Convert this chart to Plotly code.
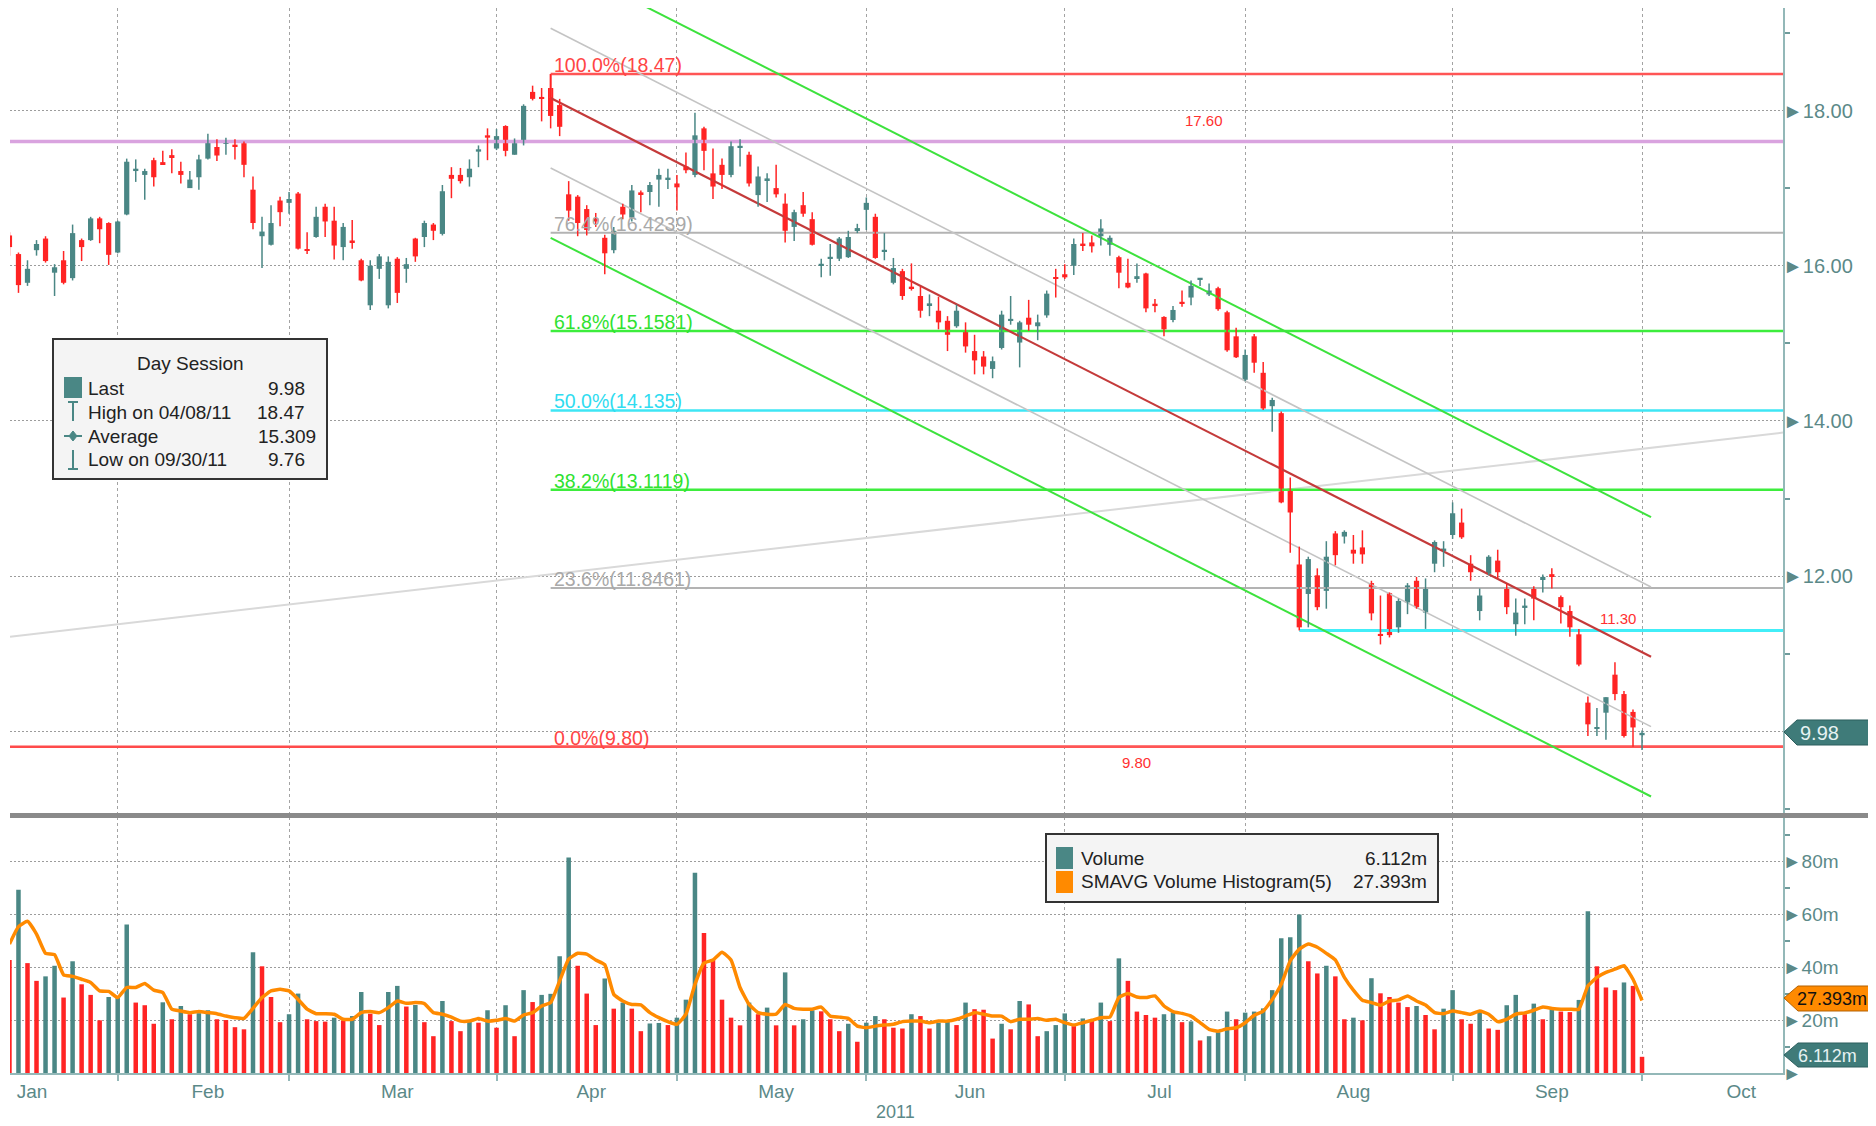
import plotly.graph_objects as go
import pandas as pd

# ---------------- data ----------------
HOLIDAYS = ["2011-01-17", "2011-02-21", "2011-04-22", "2011-05-30", "2011-07-04", "2011-09-05"]
FIRST_BAR = "2011-01-12"
MONTH_NAMES = ["Jan", "Feb", "Mar", "Apr", "May", "Jun", "Jul", "Aug", "Sep", "Oct"]

opens = [
    16.39, 16.15, 15.78, 16.20, 16.35, 15.91, 16.07, 15.84, 16.33, 16.33,
    16.61, 16.55, 16.17, 16.66, 17.22, 17.17, 17.36, 17.33, 17.42, 17.22,
    17.00, 17.14, 17.38, 17.53, 17.58, 17.56, 17.58, 16.98, 16.38, 16.27,
    16.84, 16.81, 16.93, 16.20, 16.37, 16.76, 16.58, 16.24, 16.32, 16.07,
    15.49, 15.96, 15.49, 16.09, 15.96, 16.35, 16.37, 16.53, 16.41, 17.17,
    17.17, 17.14, 17.47, 17.68, 17.51, 17.80, 17.43, 17.58, 18.24, 18.17,
    18.29, 18.07, 16.92, 16.89, 16.73, 16.61, 16.36, 16.20, 16.76, 16.62,
    16.94, 16.95, 17.11, 17.11, 17.06, 17.28, 17.17, 17.77, 17.19, 17.30,
    17.17, 17.52, 17.43, 16.91, 17.10, 17.00, 16.80, 16.50, 16.78, 16.60,
    16.00, 16.09, 16.09, 16.11, 16.46, 16.72, 16.63, 16.18, 15.78, 15.93,
    15.73, 15.61, 15.49, 15.42, 15.29, 15.22, 15.16, 14.90, 14.83, 14.67,
    14.94, 15.29, 15.01, 15.33, 15.22, 15.36, 15.85, 15.89, 16.00, 16.28,
    16.30, 16.38, 16.27, 16.11, 15.78, 15.84, 15.90, 15.51, 15.34, 15.30,
    15.53, 15.59, 15.82, 15.63, 15.71, 15.40, 15.09, 14.53, 15.09, 14.62,
    14.19, 14.10, 13.13, 12.15, 11.77, 12.01, 11.81, 12.55, 12.51, 12.34,
    12.37, 11.91, 11.25, 11.78, 11.34, 11.66, 11.94, 11.53, 12.16, 12.33,
    12.53, 12.69, 12.16, 11.55, 12.03, 12.20, 11.84, 11.38, 11.59, 11.84,
    11.95, 12.02, 11.73, 11.55, 11.25, 10.37, 10.03, 10.24, 10.73, 10.48,
    10.25, 9.95,
]
highs = [
    16.43, 16.17, 16.07, 16.33, 16.38, 16.02, 16.19, 16.53, 16.35, 16.63,
    16.63, 16.56, 16.58, 17.38, 17.37, 17.25, 17.39, 17.48, 17.50, 17.34,
    17.22, 17.43, 17.70, 17.63, 17.65, 17.63, 17.60, 17.15, 16.63, 16.78,
    16.89, 16.95, 16.95, 16.43, 16.76, 16.80, 16.76, 16.55, 16.59, 16.09,
    16.07, 16.15, 16.12, 16.11, 16.10, 16.36, 16.58, 16.55, 17.04, 17.27,
    17.26, 17.37, 17.55, 17.77, 17.76, 17.81, 17.64, 18.08, 18.32, 18.29,
    18.47, 18.15, 17.09, 16.91, 16.78, 16.68, 16.40, 16.50, 16.80, 17.04,
    16.97, 17.08, 17.25, 17.25, 17.17, 17.46, 17.97, 17.79, 17.51, 17.38,
    17.60, 17.63, 17.47, 17.28, 17.19, 17.30, 16.93, 16.72, 16.95, 16.69,
    16.09, 16.28, 16.37, 16.45, 16.54, 16.88, 16.67, 16.42, 16.10, 15.96,
    16.03, 15.73, 15.63, 15.60, 15.35, 15.50, 15.27, 15.11, 14.90, 14.83,
    15.42, 15.61, 15.29, 15.56, 15.37, 15.68, 15.96, 16.02, 16.35, 16.42,
    16.39, 16.60, 16.39, 16.13, 16.09, 16.03, 15.91, 15.57, 15.35, 15.48,
    15.68, 15.81, 15.84, 15.77, 15.73, 15.42, 15.20, 14.92, 15.12, 14.76,
    14.30, 14.12, 13.27, 12.38, 12.25, 12.10, 12.45, 12.58, 12.59, 12.53,
    12.59, 11.94, 11.75, 11.79, 11.71, 11.91, 11.99, 11.97, 12.46, 12.45,
    12.95, 12.87, 12.27, 11.84, 12.27, 12.34, 11.90, 11.71, 11.71, 11.87,
    12.02, 12.10, 11.75, 11.62, 11.32, 10.45, 10.30, 10.44, 10.89, 10.52,
    10.28, 10.01,
]
lows = [
    16.13, 15.65, 15.74, 16.13, 16.04, 15.61, 15.76, 15.81, 16.06, 16.32,
    16.29, 16.01, 16.16, 16.65, 17.08, 16.85, 17.02, 17.30, 17.19, 17.06,
    17.00, 16.98, 17.37, 17.35, 17.43, 17.37, 17.14, 16.47, 15.97, 16.26,
    16.51, 16.67, 16.21, 16.15, 16.36, 16.37, 16.08, 16.07, 16.22, 15.80,
    15.43, 15.83, 15.45, 15.52, 15.78, 16.05, 16.24, 16.33, 16.39, 16.87,
    17.06, 17.02, 17.27, 17.36, 17.49, 17.41, 17.43, 17.55, 18.13, 17.86,
    17.77, 17.67, 16.58, 16.38, 16.39, 16.50, 15.89, 16.16, 16.60, 16.57,
    16.69, 16.78, 16.76, 16.99, 16.71, 17.19, 17.14, 17.23, 16.86, 16.99,
    17.14, 17.28, 17.02, 16.76, 16.82, 16.88, 16.30, 16.32, 16.63, 16.26,
    15.85, 15.87, 16.06, 16.10, 16.42, 16.46, 16.09, 16.07, 15.76, 15.56,
    15.68, 15.33, 15.35, 15.18, 14.90, 15.20, 14.88, 14.60, 14.60, 14.55,
    14.92, 15.24, 14.69, 15.16, 15.04, 15.33, 15.59, 15.83, 15.88, 16.19,
    16.17, 16.26, 16.13, 15.71, 15.71, 15.78, 15.40, 15.40, 15.09, 15.27,
    15.47, 15.49, 15.74, 15.61, 15.42, 14.89, 14.81, 14.51, 14.62, 14.14,
    13.86, 12.94, 12.30, 11.30, 11.34, 11.56, 11.58, 12.14, 12.42, 12.16,
    12.16, 11.43, 11.12, 11.21, 11.27, 11.51, 11.58, 11.32, 12.05, 12.12,
    12.48, 12.48, 11.94, 11.43, 12.01, 11.97, 11.51, 11.23, 11.38, 11.43,
    11.79, 11.84, 11.39, 11.22, 10.84, 9.94, 9.94, 9.89, 10.40, 9.92,
    9.80, 9.76,
]
closes = [
    16.24, 15.75, 15.96, 16.28, 16.06, 15.98, 15.78, 16.42, 16.24, 16.61,
    16.47, 16.14, 16.57, 17.34, 17.25, 17.22, 17.14, 17.31, 17.40, 17.17,
    17.11, 17.37, 17.60, 17.42, 17.60, 17.53, 17.30, 16.55, 16.44, 16.55,
    16.69, 16.86, 16.22, 16.19, 16.63, 16.57, 16.26, 16.50, 16.30, 15.81,
    16.00, 16.12, 16.05, 15.65, 16.02, 16.12, 16.55, 16.45, 16.96, 17.12,
    17.09, 17.25, 17.50, 17.65, 17.67, 17.48, 17.58, 18.06, 18.15, 18.15,
    17.93, 17.79, 16.71, 16.55, 16.46, 16.57, 16.16, 16.45, 16.66, 16.97,
    16.92, 17.04, 17.17, 17.12, 17.01, 17.23, 17.68, 17.48, 17.02, 17.17,
    17.54, 17.54, 17.06, 17.15, 17.11, 16.92, 16.45, 16.69, 16.67, 16.27,
    16.02, 16.11, 16.35, 16.37, 16.48, 16.81, 16.10, 16.19, 15.97, 15.61,
    15.70, 15.42, 15.51, 15.27, 15.11, 15.42, 14.96, 14.78, 14.70, 14.77,
    15.37, 15.30, 15.27, 15.24, 15.27, 15.64, 15.83, 15.85, 16.28, 16.26,
    16.25, 16.48, 16.36, 15.91, 15.72, 15.85, 15.45, 15.48, 15.18, 15.43,
    15.51, 15.74, 15.83, 15.68, 15.44, 14.91, 14.82, 14.85, 14.75, 14.16,
    14.27, 12.95, 12.82, 11.34, 12.22, 11.60, 12.25, 12.27, 12.57, 12.29,
    12.28, 11.52, 11.23, 11.24, 11.68, 11.88, 11.60, 11.84, 12.44, 12.34,
    12.81, 12.50, 12.05, 11.75, 12.25, 12.05, 11.60, 11.53, 11.62, 11.71,
    11.99, 12.00, 11.60, 11.34, 10.86, 10.09, 10.05, 10.44, 10.48, 9.94,
    10.05, 9.98,
]
# volume in millions
volumes = [
    42.7, 69.2, 41.5, 34.8, 36.5, 40.5, 28.5, 42.2, 33.5, 29.5,
    19.9, 28.7, 29.0, 56.1, 26.6, 25.6, 18.6, 26.7, 20.3, 25.3,
    22.2, 22.6, 23.7, 20.3, 20.0, 17.3, 16.5, 45.6, 40.3, 28.7,
    19.2, 22.2, 30.0, 20.3, 19.6, 19.4, 20.9, 19.9, 21.5, 30.6,
    22.4, 18.1, 30.6, 32.9, 25.1, 25.7, 19.2, 13.9, 27.2, 19.6,
    15.8, 19.4, 19.0, 23.7, 17.1, 25.6, 13.9, 31.3, 26.8, 29.5,
    29.9, 44.1, 81.4, 40.5, 30.0, 18.1, 35.7, 24.3, 26.6, 24.3,
    15.8, 18.7, 18.9, 18.1, 20.9, 27.7, 75.6, 52.9, 42.7, 27.7,
    20.9, 18.0, 26.6, 22.2, 24.7, 18.0, 38.0, 18.0, 20.3, 23.7,
    23.3, 20.3, 15.8, 18.6, 11.8, 19.0, 21.5, 20.3, 17.1, 16.8,
    22.2, 21.5, 16.8, 19.0, 19.4, 18.1, 26.6, 24.1, 23.9, 13.0,
    18.6, 16.5, 27.2, 25.9, 13.9, 15.8, 18.1, 22.5, 17.7, 20.6,
    20.3, 26.6, 19.6, 43.3, 34.8, 23.2, 21.9, 20.9, 22.2, 22.9,
    19.2, 19.5, 12.3, 13.9, 15.4, 23.2, 20.3, 22.8, 23.2, 24.4,
    31.3, 50.9, 51.3, 59.9, 42.2, 37.6, 40.5, 36.5, 20.3, 20.9,
    19.9, 35.8, 30.1, 28.7, 26.6, 24.9, 25.3, 21.9, 16.5, 24.3,
    31.3, 20.3, 18.6, 23.4, 16.8, 16.3, 25.6, 29.5, 22.2, 26.2,
    20.3, 24.1, 23.2, 23.0, 27.6, 61.1, 40.3, 32.3, 31.3, 34.2,
    32.9, 6.112,
]
# SMAVG(5) of volume (millions)
smavg5 = [
    48.7, 55.3, 57.3, 52.5, 45.2, 44.7, 37.1, 36.5, 35.4, 34.2,
    31.0, 30.8, 28.5, 32.3, 32.3, 33.8, 31.3, 30.4, 24.1, 23.4,
    22.8, 23.2, 22.8, 22.4, 21.5, 20.9, 20.6, 24.4, 28.5, 31.0,
    31.6, 31.0, 27.8, 24.1, 22.4, 22.4, 22.2, 20.3, 20.3, 22.8,
    23.2, 22.8, 24.7, 27.2, 26.3, 26.6, 26.2, 22.8, 22.2, 21.1,
    19.6, 19.6, 20.6, 19.6, 19.9, 20.6, 19.6, 21.9, 22.8, 25.3,
    26.6, 34.8, 43.0, 45.2, 44.9, 42.7, 40.9, 29.7, 27.2, 25.9,
    25.7, 22.8, 20.9, 19.4, 18.4, 22.2, 33.5, 41.5, 42.7, 45.6,
    42.7, 32.3, 25.9, 22.8, 22.2, 22.2, 25.9, 24.4, 24.1, 24.1,
    24.9, 21.5, 21.1, 20.6, 17.7, 17.1, 17.7, 18.1, 18.4, 19.4,
    19.6, 19.6, 19.0, 19.6, 19.6, 20.3, 21.5, 22.8, 22.2, 21.5,
    21.5, 19.4, 20.3, 20.3, 20.6, 19.9, 20.3, 19.0, 18.1, 19.0,
    19.9, 20.9, 21.1, 28.5, 30.0, 28.7, 28.5, 29.1, 25.3, 23.2,
    22.5, 21.5, 19.0, 16.5, 15.8, 16.7, 17.1, 19.0, 21.8, 23.4,
    27.8, 33.5, 42.4, 46.8, 48.7, 47.5, 45.2, 42.7, 36.1, 31.3,
    27.5, 26.6, 25.6, 27.2, 27.6, 29.1, 27.2, 25.7, 22.8, 22.4,
    23.4, 22.8, 22.2, 23.4, 22.2, 19.4, 20.3, 22.2, 22.7, 23.7,
    24.9, 24.4, 24.1, 24.1, 24.1, 32.9, 36.1, 38.0, 39.2, 40.5,
    35.4, 27.393,
]

# price levels / drawn studies
FIB_PCTS = ["100.0%", "76.4%", "61.8%", "50.0%", "38.2%", "23.6%", "0.0%"]
FIB_VALUES = [18.47, 16.4239, 15.1581, 14.135, 13.1119, 11.8461, 9.80]
FIB_LABEL_VALUES = ["18.47", "16.4239", "15.1581", "14.135", "13.1119", "11.8461", "9.80"]
FIB_START_DATE = "2011-04-08"
RESIST_LEVEL = 17.60
SUPPORT_LEVEL = 9.80
AUG_LEVEL = 11.30
AUG_START_DATE = "2011-08-08"
CHANNEL_START = ("2011-04-08", 18.16)
CHANNEL_END = ("2011-10-03", 10.96)
CHANNEL_OFFSETS = [1.80, 0.90, 0.0, -0.90, -1.80]
TREND_START = 11.22      # value at left edge
TREND_END = 13.85        # value at right edge
LAST_PRICE, HIGH_PRICE, AVG_PRICE, LOW_PRICE = "9.98", "18.47", "15.309", "9.76"
LAST_VOL, LAST_SMA = "6.112m", "27.393m"

# ---------------- trading calendar ----------------
sessions = [d for d in pd.bdate_range("2011-01-03", "2011-10-31")
            if d.strftime("%Y-%m-%d") not in HOLIDAYS]
keys = [d.strftime("%Y-%m-%d") for d in sessions]
i0 = keys.index(FIRST_BAR)
xs = list(range(i0, i0 + len(closes)))
month_mid, month_end = [], []
for m in range(1, 11):
    idx = [k for k, d in enumerate(sessions) if d.month == m]
    month_mid.append((idx[0] + idx[-1]) / 2)
    if m <= 9:
        month_end.append(idx[-1])
fib_x0 = keys.index(FIB_START_DATE)
aug_x0 = keys.index(AUG_START_DATE)
ch_x0, ch_x1 = keys.index(CHANNEL_START[0]), keys.index(CHANNEL_END[0])

# ---------------- geometry / style ----------------
# the page body adds an 8px offset; the figure is sized so that it fills the window exactly
OFF = 8
W, H = 1876 - OFF, 1126 - OFF
ML, MR, MT, MB = 10 - OFF, 93, 8 - OFF, 53
PW, PH = W - ML - MR, H - MT - MB
X_RANGE = [7.06, 203.63]
P_RANGE = [8.947, 19.321]
V_RANGE = [0, 96.7]
PRICE_DOM = [0.2441, 1.0]
VOL_DOM = [0.0, 0.2404]

TEAL = "#4a8785"
RED = "#ff2424"
AXIS = "#93b8b8"
LABEL = "#5b8988"
GRID = "#9c9c9c"
FONT = "Liberation Sans, Arial, sans-serif"


def px_x(p):          # page pixel -> paper x
    return (p - OFF - ML) / PW


def px_y(p):          # page pixel -> paper y
    return (H - MB - (p - OFF)) / PH


fig = go.Figure()

# ---- studies (under the candles) ----
span = [X_RANGE[0] - 1, X_RANGE[1] + 1]


def pline(x, y, color, width):
    fig.add_trace(go.Scatter(x=x, y=y, mode="lines", line=dict(color=color, width=width),
                             xaxis="x2", yaxis="y2", hoverinfo="skip", showlegend=False))


pline([X_RANGE[0], X_RANGE[1]], [TREND_START, TREND_END], "#d9d9d9", 2)
pline(span, [RESIST_LEVEL, RESIST_LEVEL], "#d9a3df", 3.5)
pline(span, [SUPPORT_LEVEL, SUPPORT_LEVEL], "#ff4a4a", 2.5)
fib_colors = ["#ff5555", "#b3b3b3", "#3ded3d", "#3ee6f5", "#3ded3d", "#b3b3b3", "#ff5555"]
for v, c in zip(FIB_VALUES, fib_colors):
    pline([fib_x0, span[1]], [v, v], c, 2.5 if c != "#b3b3b3" else 2)
pline([fib_x0, fib_x0], [FIB_VALUES[0], CHANNEL_START[1]], "#ff5555", 2)
pline([aug_x0, span[1]], [AUG_LEVEL, AUG_LEVEL], "#42eef8", 3)
ch_colors = ["#3de23d", "#c4c4c4", "#c43a3a", "#c4c4c4", "#3de23d"]
ch_widths = [2, 1.6, 2.2, 1.6, 2]
for off, c, w in zip(CHANNEL_OFFSETS, ch_colors, ch_widths):
    pline([ch_x0, ch_x1], [CHANNEL_START[1] + off, CHANNEL_END[1] + off], c, w)

# ---- candles ----
up = [c >= o for o, c in zip(opens, closes)]
for flag, col in [(True, TEAL), (False, RED)]:
    wx, wy = [], []
    for x, h, l, u in zip(xs, highs, lows, up):
        if u == flag:
            wx += [x, x, None]
            wy += [l, h, None]
    fig.add_trace(go.Scatter(x=wx, y=wy, mode="lines", line=dict(color=col, width=1.5),
                             xaxis="x2", yaxis="y2", hoverinfo="skip", showlegend=False))
body_base = [min(o, c) for o, c in zip(opens, closes)]
body_h = [max(abs(c - o), 0.025) for o, c in zip(opens, closes)]
fig.add_trace(go.Bar(x=xs, y=body_h, base=body_base, width=0.58,
                     marker=dict(color=[TEAL if u else RED for u in up], line=dict(width=0)),
                     xaxis="x2", yaxis="y2", showlegend=False))

# ---- volume ----
vcol = [RED] + [TEAL if volumes[k] > volumes[k - 1] else RED for k in range(1, len(volumes))]
fig.add_trace(go.Bar(x=xs, y=volumes, width=0.5, marker=dict(color=vcol, line=dict(width=0)),
                     xaxis="x", yaxis="y", showlegend=False))
fig.add_trace(go.Scatter(x=xs, y=smavg5, mode="lines",
                         line=dict(color="#ff8a00", width=3.5, shape="spline", smoothing=0.4),
                         xaxis="x", yaxis="y", showlegend=False))

# ---------------- annotations ----------------
ann = []
fib_text_colors = ["#ff4545", "#a9a9a9", "#2fe22f", "#2fdcf0", "#2fe22f", "#a9a9a9", "#ff4545"]
for p, lv, v, c in zip(FIB_PCTS, FIB_LABEL_VALUES, FIB_VALUES, fib_text_colors):
    ann.append(dict(xref="x2", yref="y2", x=fib_x0, y=v, text=f"{p}({lv})", showarrow=False,
                    xanchor="left", yanchor="bottom", yshift=-4, xshift=1,
                    font=dict(family=FONT, size=19.5, color=c)))
ann.append(dict(xref="x2", yref="y2", x=139.4, y=RESIST_LEVEL, text=f"{RESIST_LEVEL:.2f}",
                showarrow=False, yanchor="bottom", yshift=11, font=dict(family=FONT, size=15, color="#ff3030")))
ann.append(dict(xref="x2", yref="y2", x=131.9, y=SUPPORT_LEVEL, text=f"{SUPPORT_LEVEL:.2f}",
                showarrow=False, yanchor="top", yshift=-5, font=dict(family=FONT, size=15, color="#ff3030")))
ann.append(dict(xref="x2", yref="y2", x=185.3, y=AUG_LEVEL, text=f"{AUG_LEVEL:.2f}",
                showarrow=False, yanchor="bottom", yshift=1, font=dict(family=FONT, size=15, color="#ff3030")))


def tpx(x, y, text, size=19, color="#222222", xanchor="left", yanchor="middle"):
    ann.append(dict(xref="paper", yref="paper", x=px_x(x), y=px_y(y), text=text, showarrow=False,
                    xanchor=xanchor, yanchor=yanchor, font=dict(family=FONT, size=size, color=color)))


# Day Session box text
tpx(190, 364, "Day Session", xanchor="center")
tpx(86, 388, "Last")
tpx(86, 412, "High on 04/08/11")
tpx(86, 436, "Average")
tpx(86, 460, "Low on 09/30/11")
tpx(307, 388, LAST_PRICE, xanchor="right")
tpx(307, 412, HIGH_PRICE, xanchor="right")
tpx(318, 436, AVG_PRICE, xanchor="right")
tpx(307, 460, LOW_PRICE, xanchor="right")
# volume legend text
tpx(1079, 858, "Volume")
tpx(1079, 882, "SMAVG Volume Histogram(5)")
tpx(1429, 858, LAST_VOL, xanchor="right")
tpx(1429, 882, LAST_SMA, xanchor="right")
# right-hand value tags
tpx(1798, 733, LAST_PRICE, size=20, color="#e6f2f2")
tpx(1795, 999, LAST_SMA, size=18, color="#111111")
tpx(1796, 1056, LAST_VOL, size=18, color="#e6f2f2")
tpx(895, 1112, "2011", size=18, color=LABEL, xanchor="center")

# ---------------- shapes ----------------
shapes = []


def rect(x0, y0, x1, y1, fill, lc=None, lw=0):
    shapes.append(dict(type="rect", xref="paper", yref="paper", x0=px_x(x0), x1=px_x(x1),
                       y0=px_y(y1), y1=px_y(y0), fillcolor=fill,
                       line=dict(color=lc or fill, width=lw), layer="above"))


def seg(x0, y0, x1, y1, color, w):
    shapes.append(dict(type="line", xref="paper", yref="paper", x0=px_x(x0), x1=px_x(x1),
                       y0=px_y(y0), y1=px_y(y1), line=dict(color=color, width=w), layer="above"))


def poly(pts, fill, lc=None):
    d = "M " + " L ".join(f"{px_x(a):.5f},{px_y(b):.5f}" for a, b in pts) + " Z"
    shapes.append(dict(type="path", xref="paper", yref="paper", path=d, fillcolor=fill,
                       line=dict(color=lc or fill, width=1), layer="above"))


# panel separator and right border
rect(10, 813, 1876, 818, "#8a8a8a")
seg(1874.5, 8, 1874.5, 813, "#222222", 1.5)
# Day Session legend
rect(53, 339, 327, 479, "#f4f4f4", "#333333", 2)
rect(64, 377, 82, 398, TEAL)
seg(73, 402, 73, 421, TEAL, 2)
seg(68, 402, 78, 402, TEAL, 2)
seg(64, 436, 82, 436, TEAL, 2)
poly([(73, 431), (77, 436), (73, 441), (69, 436)], TEAL)
seg(73, 450, 73, 469, TEAL, 2)
seg(68, 469, 78, 469, TEAL, 2)
# volume legend
rect(1046, 834, 1438, 902, "#f4f4f4", "#333333", 2)
rect(1056, 847, 1073, 869, TEAL)
rect(1056, 871, 1073, 893, "#ff8a00")
# value tags on the right axis
poly([(1784, 732), (1797, 720), (1876, 720), (1876, 745), (1797, 745)], "#3f7b79", "#2d5f5e")
poly([(1784, 998), (1798, 986), (1876, 986), (1876, 1011), (1798, 1011)], "#ff8a00", "#b36000")
poly([(1784, 1055), (1798, 1043), (1876, 1043), (1876, 1067), (1798, 1067)], "#3f7b79", "#2d5f5e")

# ---------------- axes ----------------
minor_x = dict(tickvals=month_end, showgrid=True, gridcolor="#a3a3a3", griddash="3px,3px", gridwidth=1)
fig.update_layout(
    width=W, height=H, margin=dict(l=ML, r=MR, t=MT, b=MB),
    paper_bgcolor="white", plot_bgcolor="white", barmode="overlay", showlegend=False,
    font=dict(family=FONT, color=LABEL),
    xaxis=dict(domain=[0, 1], anchor="y", range=X_RANGE, showgrid=False, zeroline=False,
               tickvals=month_mid, ticktext=MONTH_NAMES, ticks="",
               tickfont=dict(family=FONT, size=19, color=LABEL),
               showline=True, linecolor=AXIS, linewidth=2,
               minor=dict(ticks="outside", ticklen=6, tickcolor=AXIS, tickwidth=1.5, **minor_x)),
    xaxis2=dict(domain=[0, 1], anchor="y2", matches="x", range=X_RANGE, showgrid=False,
                zeroline=False, showticklabels=False, ticks="", tickvals=month_mid,
                minor=dict(ticks="", **minor_x)),
    yaxis=dict(domain=VOL_DOM, anchor="x", side="right", range=V_RANGE, zeroline=False,
               tickvals=[0, 20, 40, 60, 80], ticktext=["►", "►20m", "►40m", "►60m", "►80m"],
               ticks="", ticklabelstandoff=-6, tickfont=dict(family=FONT, size=19, color=LABEL),
               showgrid=True, gridcolor=GRID, griddash="2px,2px", gridwidth=1.2,
               showline=True, linecolor=AXIS, linewidth=2,
               minor=dict(tickvals=[10, 30, 50, 70, 90], ticks="outside", ticklen=5,
                          tickcolor="#6f9c9c", tickwidth=2, showgrid=False)),
    yaxis2=dict(domain=PRICE_DOM, anchor="x2", side="right", range=P_RANGE, zeroline=False,
                tickvals=[10, 12, 14, 16, 18], ticktext=["", "►12.00", "►14.00", "►16.00", "►18.00"],
                ticks="", ticklabelstandoff=-6, tickfont=dict(family=FONT, size=20, color=LABEL),
                showgrid=True, gridcolor=GRID, griddash="2px,2px", gridwidth=1.2,
                showline=True, linecolor=AXIS, linewidth=2,
                minor=dict(tickvals=[9, 11, 13, 15, 17, 19], ticks="outside", ticklen=5,
                           tickcolor="#6f9c9c", tickwidth=2, showgrid=False)),
    annotations=ann, shapes=shapes,
)

fig.write_html("out.html")
